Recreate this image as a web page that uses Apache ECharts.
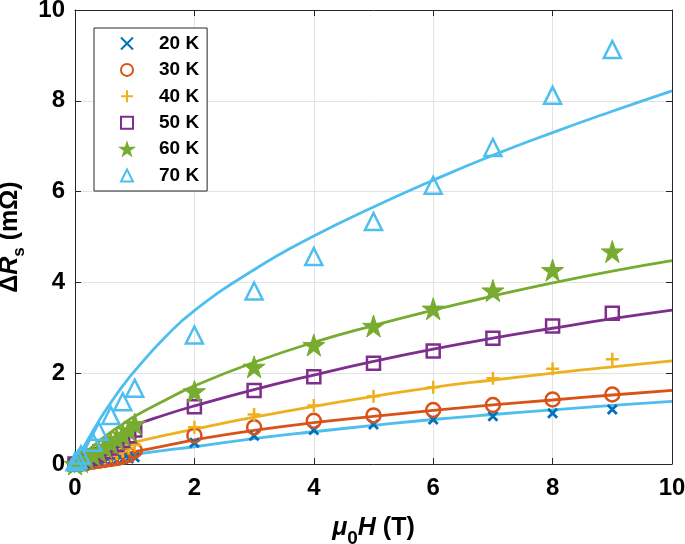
<!DOCTYPE html>
<html>
<head>
<meta charset="utf-8">
<script src="https://cdn.jsdelivr.net/npm/echarts@6/dist/echarts.min.js"></script>
<style>html,body{margin:0;padding:0;background:#fff}#c{width:685px;height:544px}</style>
</head>
<body>
<div id="c"></div>
<script>
// ---- data ----
var seriesNames = ['20 K', '30 K', '40 K', '50 K', '60 K', '70 K'];
var fieldsDense = [0, 0.1, 0.2, 0.3, 0.4, 0.5, 0.6, 0.7, 0.8, 0.9, 1, 2, 3, 4, 5, 6, 7, 8, 9];
var fields70 = [0, 0.05, 0.1, 0.3, 0.4, 0.6, 0.8, 1, 2, 3, 4, 5, 6, 7, 8, 9];
var data20K = [0, 0.01, 0.02, 0.03, 0.04, 0.05, 0.06, 0.08, 0.1, 0.12, 0.15, 0.47, 0.62, 0.75, 0.87, 0.98, 1.05, 1.12, 1.2];
var data30K = [0, 0.01, 0.03, 0.05, 0.07, 0.09, 0.11, 0.13, 0.16, 0.2, 0.3, 0.63, 0.81, 0.95, 1.07, 1.19, 1.3, 1.42, 1.53];
var data40K = [0, 0.02, 0.04, 0.07, 0.1, 0.14, 0.18, 0.23, 0.28, 0.35, 0.42, 0.81, 1.09, 1.29, 1.49, 1.69, 1.89, 2.1, 2.31];
var data50K = [0, 0.03, 0.08, 0.13, 0.2, 0.27, 0.35, 0.43, 0.52, 0.62, 0.75, 1.26, 1.62, 1.92, 2.22, 2.49, 2.77, 3.04, 3.32];
var data60K = [0, 0.05, 0.12, 0.2, 0.28, 0.37, 0.46, 0.55, 0.64, 0.74, 0.88, 1.6, 2.14, 2.62, 3.04, 3.42, 3.82, 4.27, 4.68];
var data70K = [0.05, 0.1, 0.2, 0.48, 0.72, 1.07, 1.37, 1.67, 2.84, 3.81, 4.57, 5.34, 6.14, 6.97, 8.12, 9.13];

var fitFields = [0, 0.2, 0.4, 0.6, 0.8, 1, 1.5, 2, 3, 4, 5, 6, 7, 8, 9, 10];
var fit20K = [0, 0.05, 0.09, 0.13, 0.17, 0.21, 0.3, 0.38, 0.56, 0.71, 0.85, 0.98, 1.09, 1.19, 1.29, 1.38];
var fit30K = [0, 0.06, 0.12, 0.17, 0.22, 0.27, 0.4, 0.53, 0.74, 0.91, 1.05, 1.18, 1.3, 1.41, 1.52, 1.62];
var fit40K = [0, 0.12, 0.23, 0.32, 0.41, 0.48, 0.63, 0.77, 1.03, 1.27, 1.49, 1.69, 1.85, 2.0, 2.14, 2.27];
var fit50K = [0, 0.2, 0.38, 0.54, 0.7, 0.85, 1.08, 1.28, 1.64, 1.96, 2.26, 2.53, 2.77, 2.99, 3.2, 3.39];
var fit60K = [0, 0.27, 0.5, 0.7, 0.88, 1.05, 1.4, 1.72, 2.24, 2.68, 3.05, 3.39, 3.7, 3.99, 4.25, 4.48];
var fit70K = [0, 0.5, 0.95, 1.35, 1.72, 2.05, 2.78, 3.38, 4.28, 5.02, 5.66, 6.25, 6.8, 7.3, 7.77, 8.22];

// ---- styling ----
var colors = ['#0072BD', '#D95319', '#EDB120', '#7E2F8E', '#77AC30', '#4DBEEE'];
var fitColors = ['#4DBEEE', '#D95319', '#EDB120', '#7E2F8E', '#77AC30', '#4DBEEE'];
var symbols = [
  'path://M0,0 L10,10 M10,0 L0,10',
  'circle',
  'path://M5,0 L5,10 M0,5 L10,5',
  'rect',
  'path://M50,0 L61.2,34.5 L97.6,34.5 L68.2,55.9 L79.4,90.5 L50,69.1 L20.6,90.5 L31.8,55.9 L2.4,34.5 L38.8,34.5 Z',
  'triangle'
];
var symbolSizes = [9, 14, 13, 13, 22, 17];
var borderWidths = [2.8, 2.5, 2.5, 2.5, 1, 2.5];
var filled = [false, false, false, false, true, false];

function pairs(xs, ys) { return xs.map(function (x, i) { return [x, ys[i]]; }); }

var scatterData = [data20K, data30K, data40K, data50K, data60K, data70K];
var scatterFields = [fieldsDense, fieldsDense, fieldsDense, fieldsDense, fieldsDense, fields70];
var fitData = [fit20K, fit30K, fit40K, fit50K, fit60K, fit70K];

var series = [];
for (var i = 0; i < 6; i++) {
  series.push({
    name: 'fit' + i, type: 'line', data: pairs(fitFields, fitData[i]),
    showSymbol: false, smooth: 0.5, z: 2,
    lineStyle: { color: fitColors[i], width: 2.8 }, silent: true
  });
}
for (var j = 0; j < 6; j++) {
  series.push({
    name: seriesNames[j], type: 'scatter', data: pairs(scatterFields[j], scatterData[j]),
    symbol: symbols[j], symbolSize: symbolSizes[j], z: 3,
    itemStyle: {
      color: filled[j] ? colors[j] : 'rgba(0,0,0,0)',
      borderColor: colors[j], borderWidth: borderWidths[j], opacity: 1
    }
  });
}

var FF = 'Liberation Sans, Arial, Helvetica, sans-serif';
var tickFont = { fontFamily: FF, fontWeight: 'bold', fontSize: 24, color: '#000' };
var axisCol = '#262626';
function tok(extra) { return Object.assign({ fontFamily: FF, fontWeight: 'bold', fontSize: 25, color: '#000' }, extra || {}); }

var option = {
  animation: false,
  backgroundColor: '#fff',
  grid: { left: 75, right: 13, top: 10, bottom: 80, containLabel: false, outerBoundsMode: 'none' },
  legend: {
    data: seriesNames, orient: 'vertical', left: 94, top: 28,
    backgroundColor: '#fff', borderColor: axisCol, borderWidth: 1,
    padding: [6, 8, 6, 26], itemWidth: 12, itemHeight: 12, itemGap: 7.4,
    formatter: '{a|{name}}',
    textStyle: {
      rich: { a: { fontFamily: FF, fontWeight: 'bold', fontSize: 19, color: '#000', padding: [0, 0, 0, 21], lineHeight: 19 } }
    }
  },
  xAxis: [{
    type: 'value', min: 0, max: 10, interval: 2,
    axisLine: { show: true, onZero: false, lineStyle: { color: axisCol, width: 1 } },
    axisTick: { show: true, inside: true, length: 6, lineStyle: { color: axisCol } },
    axisLabel: Object.assign({ margin: 12 }, tickFont),
    splitLine: { show: true, lineStyle: { color: '#e3e3e3', width: 1 } },
    name: '{m|μ}{sub|0}{h|H}{t| (T)}', nameLocation: 'middle', nameGap: 45,
    nameTextStyle: {
      rich: {
        m: tok({ fontStyle: 'italic' }),
        sub: tok({ fontSize: 19, padding: [20, 0, 0, 0] }),
        h: tok({ fontStyle: 'italic' }),
        t: tok()
      }
    }
  }, {
    type: 'value', min: 0, max: 10, interval: 2, position: 'top',
    axisLine: { show: true, onZero: false, lineStyle: { color: axisCol, width: 1 } },
    axisTick: { show: true, inside: true, length: 6, lineStyle: { color: axisCol } },
    axisLabel: { show: false }, splitLine: { show: false }
  }],
  yAxis: [{
    type: 'value', min: 0, max: 10, interval: 2,
    axisLine: { show: true, onZero: false, lineStyle: { color: axisCol, width: 1 } },
    axisTick: { show: true, inside: true, length: 6, lineStyle: { color: axisCol } },
    axisLabel: Object.assign({ margin: 10 }, tickFont),
    splitLine: { show: true, lineStyle: { color: '#e3e3e3', width: 1 } },
    name: '{d|Δ}{r|R}{sub|s}{t| (mΩ)}', nameLocation: 'middle', nameGap: 31, nameRotate: 90,
    nameTextStyle: {
      rich: {
        d: tok(),
        r: tok({ fontStyle: 'italic' }),
        sub: tok({ fontSize: 17, padding: [18, 0, 0, 0] }),
        t: tok()
      }
    }
  }, {
    type: 'value', min: 0, max: 10, interval: 2, position: 'right',
    axisLine: { show: true, onZero: false, lineStyle: { color: axisCol, width: 1 } },
    axisTick: { show: true, inside: true, length: 6, lineStyle: { color: axisCol } },
    axisLabel: { show: false }, splitLine: { show: false }
  }],
  series: series
};

var chart = echarts.init(document.getElementById('c'), null, { renderer: 'canvas' });
chart.setOption(option);
</script>
</body>
</html>
